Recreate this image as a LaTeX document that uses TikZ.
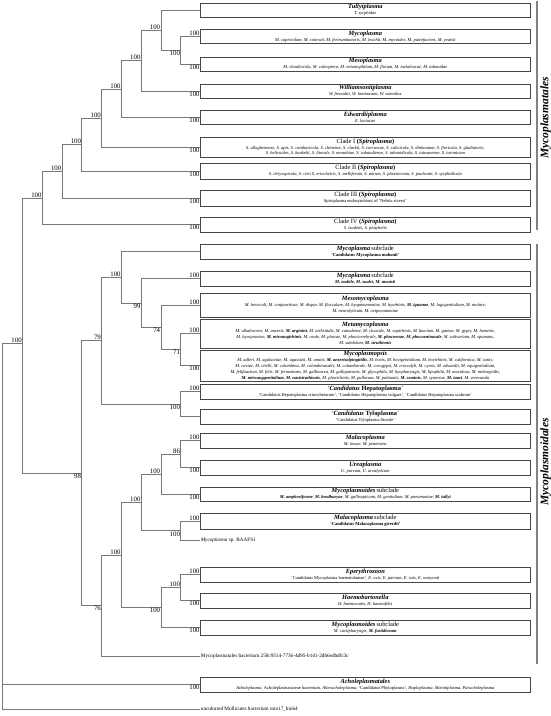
\documentclass[tikz,border=0pt]{standalone}
\usepackage{fontspec}
\setmainfont{Liberation Serif}
\usetikzlibrary{shadows}
\definecolor{treegray}{RGB}{120,120,120}
\definecolor{boxgray}{RGB}{70,70,70}
\definecolor{brgray}{RGB}{130,130,130}
\newcommand{\tf}{\fontsize{6.4}{6.6}\selectfont}
\newcommand{\Ti}[1]{{\tf\bfseries\itshape #1}}
\newcommand{\Tr}[1]{{\tf #1}}
\begin{document}
\begin{tikzpicture}[x=1pt,y=-1pt,
  branch/.style={draw=treegray, line width=0.7pt},
  cladebox/.style={draw=boxgray, line width=0.6pt, fill=white, minimum width=329.3pt, inner xsep=1pt, inner ysep=0pt, align=center, font=\fontsize{4.5}{5.9}\selectfont, drop shadow={shadow xshift=0.6pt, shadow yshift=-0.6pt, fill=black!55, opacity=0.8}},
  leaf/.style={anchor=west, inner sep=1pt, font=\fontsize{5.2}{6}\selectfont},
  bs/.style={inner sep=0.6pt, font=\fontsize{6.8}{7}\selectfont},
  up/.style={bs, anchor=south east},
  dn/.style={bs, anchor=north east},
  bracket/.style={draw=brgray, line width=1.4pt},
  order/.style={rotate=90, font=\fontsize{11.5}{12}\selectfont\bfseries\itshape, inner sep=0pt}
]
\useasboundingbox (0,0) rectangle (550,716);

% ---------------- boxes: Mycoplasmatales
\node[cladebox, minimum height=14pt] (tully) at (365.35,10) {\Ti{Tullyiplasma}\\\textit{T. syrphidae}};
\node[cladebox, minimum height=14pt] (myco) at (365.35,36.5) {\Ti{Mycoplasma}\\\textit{M. capricolum, M. cottewii, M. feriruminatoris, M. leachii, M. mycoides, M. putrefaciens, M. yeatsii}};
\node[cladebox, minimum height=14pt] (meso) at (365.35,64) {\Ti{Mesoplasma}\\\textit{M. chauliocola, M. coleoptera, M. entomophilum, M. florum, M. melaleucae, M. tabanidae}};
\node[cladebox, minimum height=14pt] (willi) at (365.35,91) {\Ti{Williamsoniiplasma}\\\textit{W. freundtii, W. luminosum, W. somnilux}};
\node[cladebox, minimum height=14.5pt] (edw) at (365.35,117.2) {\Ti{Edwardiiplasma}\\\textit{E. lactucae}};
\node[cladebox, minimum height=19.5pt] (cl1) at (365.35,147.2) {\Tr{Clade I \textbf{(\textit{Spiroplasma})}}\\\textit{S. allaghenense, S. apis, S. cantharicola, S. chinense, S. clarkii, S. corruscae, S. culicicola, S. diminutum, S. floricola, S. gladiatoris,}\\\textit{S. helicoides, S. kunkelii, S. litorale, S. monobiae, S. sabaudiense, S. tabanidicola, S. taiwanense, S. turonicum}};
\node[cladebox, minimum height=15.5pt] (cl2) at (365.35,171.2) {\Tr{Clade II \textbf{(\textit{Spiroplasma})}}\\\textit{S. chrysopicola, S. citri S. eriocheiris, S. melliferum, S. mirum, S. phoeniceum, S. poulsonii, S. syrphidicola}};
\node[cladebox, minimum height=15.5pt] (cl3) at (365.35,198.2) {\Tr{Clade III \textbf{(\textit{Spiroplasma})}}\\Spiroplasma endosymbiont of `Nebria riversi'};
\node[cladebox, minimum height=15pt] (cl4) at (365.35,224.5) {\Tr{Clade IV \textbf{(\textit{Spiroplasma})}}\\\textit{S. ixodetis, S. platyhelix}};

% ---------------- boxes: Mycoplasmoidales
\node[cladebox, minimum height=15pt] (mahon) at (365.35,251.5) {\Ti{Mycoplasma} \Tr{subclade}\\\textbf{`Candidatus Mycoplasma mahonii'}};
\node[cladebox, minimum height=15pt] (mobil) at (365.35,278.5) {\Ti{Mycoplasma} \Tr{subclade}\\\textbf{\textit{M. mobile, M. sualvi, M. moatsii}}};
\node[cladebox, minimum height=24pt] (mesom) at (365.35,305) {\Ti{Mesomycoplasma}\\\textit{M. bovoculi, M. conjunctivae, M. dispar, M. flocculare, M. hyopneumoniae, M. hyorhinis, \textbf{M. iguanae}, M. lagogenitalium, M. molare,}\\\textit{M. neurolyticum, M. ovipneumoniae}};
\node[cladebox, minimum height=29pt] (metam) at (365.35,333.5) {\Ti{Metamycoplasma}\\\textit{M. alkalescens, M. anseris, \textbf{M. arginini}, M. arthritidis, M. canadense, M. cloacale, M. equirhinis, M. faucium, M. gateae, M. gypis, M. hominis,}\\\textit{M. hyosynoviae, \textbf{M. miroungirhinis}, M. orale, M. phocae, M. phocicerebrale, \textbf{M. phocoenae}, \textbf{M. phocoeninasale}, M. salivarium, M. spumans,}\\\textit{M. subdolum, \textbf{M. struthionis}}};
\node[cladebox, minimum height=31pt] (mopsis) at (365.35,365.5) {\Ti{Mycoplasmopsis}\\\textit{M. adleri, M. agalactiae, M. agassizii, M. anatis, \textbf{M. anserisalpingitidis}, M. bovis, M. bovigenitalium, M. bovirhinis, M. californica, M. canis,}\\\textit{M. caviae, M. citelli, M. columbina, M. columbinasalis, M. columborale, M. corogypsi, M. crocodyli, M. cynos, M. edwardii, M. equigenitalium,}\\\textit{M. felifaucium, M. felis, M. fermentans, M. gallinacea, M. gallopavonis, M. glycophila, M. hyopharyngis, M. lipophila, M. maculosa, M. meleagridis,}\\\textit{\textbf{M. mirounggenitalium}, \textbf{M. nasistruthionis}, M. phocirhinis, M. pullorum, M. pulmonis, \textbf{M. seminis}, M. synoviae, \textbf{M. tauri}, M. verecunda}};
\node[cladebox, minimum height=14.5pt] (hepat) at (365.35,391.7) {\Tr{`\textbf{\textit{Candidatus} Hepatoplasma}'}\\`Candidatus Hepatoplasma crinochetorum', `Candidatus Hepatoplasma vulgare', `Candidatus Hepatoplasma scabrum'};
\node[cladebox, minimum height=15pt] (tylo) at (365.35,416.5) {\Tr{`\textbf{\textit{Candidatus} Tyloplasma}'}\\`Candidatus Tyloplasma litorale'};
\node[cladebox, minimum height=14.5pt] (malac) at (365.35,440.7) {\Ti{Malacoplasma}\\\textit{M. iowae, M. penetrans}};
\node[cladebox, minimum height=15pt] (urea) at (365.35,467.5) {\Ti{Ureaplasma}\\\textit{U. parvum, U. urealyticum}};
\node[cladebox, minimum height=14pt] (moid) at (365.35,494) {\Ti{Mycoplasmoides} \Tr{subclade}\\\textit{\textbf{M. amphoriforme}, \textbf{M. bradburyae}, M. gallisepticum, M. genitalium, M. pneumoniae, \textbf{M. tullyi}}};
\node[cladebox, minimum height=15.5pt] (malsub) at (365.35,521.2) {\Ti{Malacoplasma} \Tr{subclade}\\\textbf{`Candidatus Malacoplasma girerdii'}};
\node[leaf] (baafs) at (199.7,540.2) {\textit{Mycoplasma} sp. BAAFS1};
\node[cladebox, minimum height=15pt] (epery) at (365.35,574.5) {\Ti{Eperythrozoon}\\`Candidatus Mycoplasma haematolamae', \textit{E. ovis, E. parvum, E. suis, E. wenyonii}};
\node[cladebox, minimum height=15pt] (haemo) at (365.35,600.5) {\Ti{Haemobartonella}\\\textit{H. haemocanis, H. haemofelis}};
\node[cladebox, minimum height=15pt] (moid2) at (365.35,627.5) {\Ti{Mycoplasmoides} \Tr{subclade}\\\textit{M. caviipharyngis, \textbf{M. fastidiosum}}};
\node[leaf] (mbact) at (199.7,656) {Mycoplasmatales bacterium 250c9514-7736-4d95-b141-2db6edbdfc3c};
\node[cladebox, minimum height=15pt] (achol) at (365.35,684.5) {\Ti{Acholeplasmatales}\\\textit{Acholeplasma}, Acholeplasmataceae bacterium, \textit{Alteracholeplasma}, `Candidatus Phytoplasma', \textit{Haploplasma}, \textit{Mariniplasma}, \textit{Paracholeplasma}};
\node[leaf] (uncul) at (199.7,709) {uncultured Mollicutes bacterium min17\_bin64};

% ---------------- internal nodes
\coordinate (I) at (180.7,50.25);
\coordinate (H) at (160.9,30.1);
\coordinate (G) at (141.2,60.6);
\coordinate (F) at (121.4,88.9);
\coordinate (E) at (101.6,118);
\coordinate (D) at (81.8,144.6);
\coordinate (C) at (62,171.4);
\coordinate (B) at (42.3,198);
\coordinate (O) at (180.7,349.5);
\coordinate (N) at (160.9,327.2);
\coordinate (M) at (141.2,302.9);
\coordinate (L) at (121.4,277.2);
\coordinate (P) at (180.7,404.1);
\coordinate (K) at (101.6,340.6);
\coordinate (U) at (180.7,454.1);
\coordinate (T) at (160.9,474);
\coordinate (V) at (180.7,530.7);
\coordinate (S) at (141.2,502.3);
\coordinate (X) at (180.7,587.5);
\coordinate (W) at (160.9,607.5);
\coordinate (R) at (121.4,554.9);
\coordinate (Q) at (101.6,605.5);
\coordinate (J) at (81.8,473);
\coordinate (A) at (22.5,343);
\coordinate (root) at (2.7,343);

% ---------------- branches
\draw[branch] (I) |- (myco.west);  \draw[branch] (I) |- (meso.west);
\draw[branch] (H) |- (tully.west); \draw[branch] (H) |- (I);
\draw[branch] (G) |- (H);          \draw[branch] (G) |- (willi.west);
\draw[branch] (F) |- (G);          \draw[branch] (F) |- (edw.west);
\draw[branch] (E) |- (F);          \draw[branch] (E) |- (cl1.west);
\draw[branch] (D) |- (E);          \draw[branch] (D) |- (cl2.west);
\draw[branch] (C) |- (D);          \draw[branch] (C) |- (cl3.west);
\draw[branch] (B) |- (C);          \draw[branch] (B) |- (cl4.west);
\draw[branch] (O) |- (metam.west); \draw[branch] (O) |- (mopsis.west);
\draw[branch] (N) |- (mesom.west); \draw[branch] (N) |- (O);
\draw[branch] (M) |- (mobil.west); \draw[branch] (M) |- (N);
\draw[branch] (L) |- (mahon.west); \draw[branch] (L) |- (M);
\draw[branch] (P) |- (hepat.west); \draw[branch] (P) |- (tylo.west);
\draw[branch] (K) |- (L);          \draw[branch] (K) |- (P);
\draw[branch] (U) |- (malac.west); \draw[branch] (U) |- (urea.west);
\draw[branch] (T) |- (U);          \draw[branch] (T) |- (moid.west);
\draw[branch] (V) |- (malsub.west);\draw[branch] (V) |- (baafs.west);
\draw[branch] (S) |- (T);          \draw[branch] (S) |- (V);
\draw[branch] (X) |- (epery.west); \draw[branch] (X) |- (haemo.west);
\draw[branch] (W) |- (X);          \draw[branch] (W) |- (moid2.west);
\draw[branch] (R) |- (S);          \draw[branch] (R) |- (W);
\draw[branch] (Q) |- (R);          \draw[branch] (Q) |- (mbact.west);
\draw[branch] (J) |- (K);          \draw[branch] (J) |- (Q);
\draw[branch] (A) |- (B);          \draw[branch] (A) |- (J);
\draw[branch] (root) -- (A);
\draw[branch] (root) |- (achol.west);
\draw[branch] (root) |- (uncul.west);

% ---------------- support values
\node[up] (sH) at (H) {100};
\node[dn] (sI) at (I) {100};
\node[up] (sMy) at (myco.west) {100};
\node[dn] (sMe) at (meso.west) {100};
\node[up] (sG) at (G) {100};
\node[dn] (sWi) at (willi.west) {100};
\node[up] (sF) at (F) {100};
\node[dn] (sEd) at (edw.west) {100};
\node[up] (sE) at (E) {100};
\node[dn] (sC1) at (cl1.west) {100};
\node[up] (sD) at (D) {100};
\node[dn] (sC2) at (cl2.west) {100};
\node[up] (sC) at (C) {100};
\node[dn] (sC3) at (cl3.west) {100};
\node[up] (sB) at (B) {100};
\node[dn] (sC4) at (cl4.west) {100};
\node[up] (sA) at (A) {100};
\node[dn] (sJ) at (J) {98};
\node[up] (sK) at (K) {79};
\node[up] (sL) at (L) {100};
\node[dn] (sM) at (M) {99};
\node[up] (sMob) at (mobil.west) {100};
\node[dn] (sN) at (N) {74};
\node[up] (sMes) at (mesom.west) {100};
\node[dn] (sO) at (O) {71};
\node[up] (sMet) at (metam.west) {100};
\node[dn] (sMop) at (mopsis.west) {100};
\node[dn] (sP) at (P) {100};
\node[up] (sHep) at (hepat.west) {100};
\node[dn] (sQ) at (Q) {76};
\node[up] (sR) at (R) {100};
\node[up] (sS) at (S) {100};
\node[up] (sT) at (T) {100};
\node[up] (sU) at (U) {86};
\node[up] (sMal) at (malac.west) {100};
\node[dn] (sUre) at (urea.west) {100};
\node[dn] (sMoi) at (moid.west) {100};
\node[dn] (sV) at (V) {100};
\node[up] (sMs) at (malsub.west) {100};
\node[dn] (sW) at (W) {100};
\node[up] (sX) at (X) {100};
\node[up] (sEp) at (epery.west) {100};
\node[dn] (sHa) at (haemo.west) {100};
\node[dn] (sMo2) at (moid2.west) {100};
\node[dn] (sAc) at (achol.west) {100};

% ---------------- order brackets
\coordinate (b1t) at (537,1);   \coordinate (b1b) at (537,230);
\coordinate (b2t) at (537,244); \coordinate (b2b) at (537,664);
\draw[bracket] (b1t) -- (b1b);
\draw[bracket] (b2t) -- (b2b);
\node[order] (ord1) at (545.5,118) {Mycoplasmatales};
\node[order] (ord2) at (545.5,462) {Mycoplasmoidales};
\end{tikzpicture}
\end{document}
